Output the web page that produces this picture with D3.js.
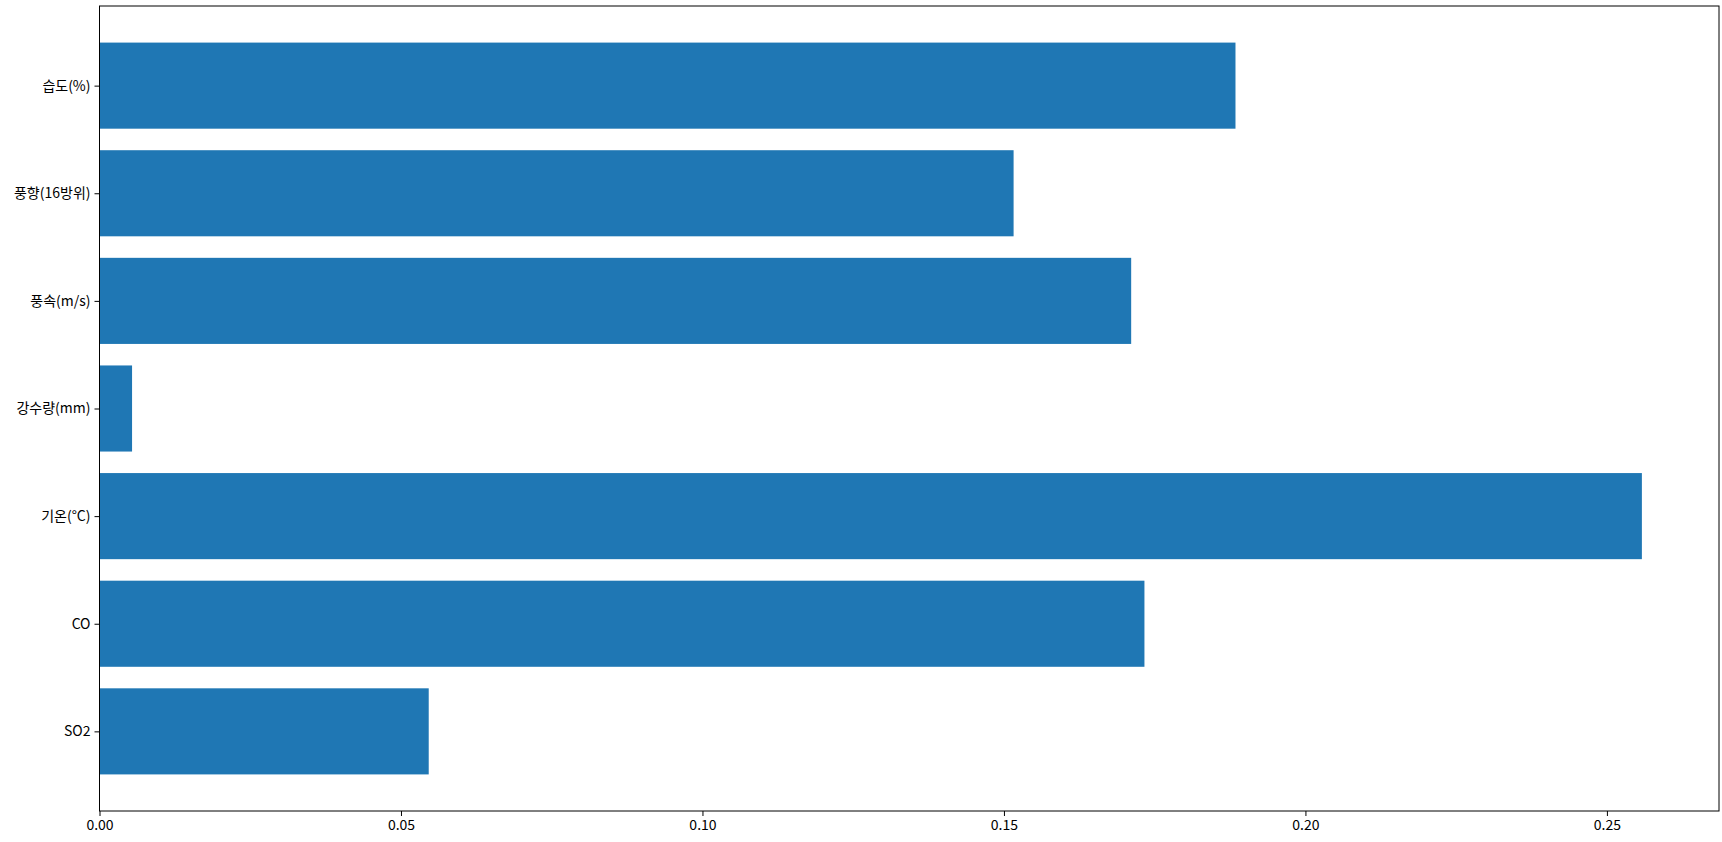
<!doctype html>
<html>
<head>
    <meta charset="utf-8">
    <style>
        body { margin: 0; background: #fff; }
        .bar { fill: #1f77b4; }
        .tick text { font-family: "Noto Sans CJK KR", "Noto Sans", sans-serif; font-size: 14px; fill: #000; }
    </style>
    <script src="https://d3js.org/d3.v7.min.js"></script>
</head>
<body>
    <svg width="1722" height="842"></svg>
    <script>
        // feature names (bottom to top, as in the plot)
        var features = ["SO2", "CO", "기온(°C)", "강수량(mm)", "풍속(m/s)", "풍향(16방위)", "습도(%)"];
        var importances = [0.0546, 0.1733, 0.2558, 0.0054, 0.1711, 0.1516, 0.1884];
        var xTicks = [0, 0.05, 0.10, 0.15, 0.20, 0.25];

        var svg = d3.select("svg"),
            plotLeft = 99.5, plotRight = 1719, plotTop = 6, plotBottom = 811;

        // matplotlib-like limits: 5% margin on x max, bars of height 0.8
        var x = d3.scaleLinear()
            .domain([0, d3.max(importances) * 1.05])
            .range([plotLeft, plotRight]);

        var n = features.length;
        var y = d3.scaleLinear()
            .domain([-0.4 - 0.34, n - 1 + 0.4 + 0.34])
            .range([plotBottom, plotTop]);

        var data = features.map(function(f, i) { return { name: f, value: importances[i], idx: i }; });

        svg.selectAll(".bar")
           .data(data)
           .enter().append("rect")
           .attr("class", "bar")
           .attr("x", x(0))
           .attr("y", function(d) { return y(d.idx + 0.4); })
           .attr("width", function(d) { return x(d.value) - x(0); })
           .attr("height", function(d) { return y(d.idx - 0.4) - y(d.idx + 0.4); });

        // frame
        svg.append("rect")
           .attr("x", plotLeft)
           .attr("y", plotTop)
           .attr("width", plotRight - plotLeft)
           .attr("height", plotBottom - plotTop)
           .attr("fill", "none")
           .attr("stroke", "#000")
           .attr("stroke-width", 1);

        var xAxis = svg.append("g")
            .attr("transform", "translate(0," + plotBottom + ")")
            .call(d3.axisBottom(x).tickValues(xTicks).tickFormat(d3.format(".2f")).tickSize(5).tickPadding(4));
        xAxis.select(".domain").remove();

        var yAxis = svg.append("g")
            .attr("transform", "translate(" + plotLeft + ",0)")
            .call(d3.axisLeft(y)
                .tickValues(d3.range(n))
                .tickFormat(function(i) { return features[i]; })
                .tickSize(5).tickPadding(4));
        yAxis.select(".domain").remove();
    </script>
</body>
</html>
